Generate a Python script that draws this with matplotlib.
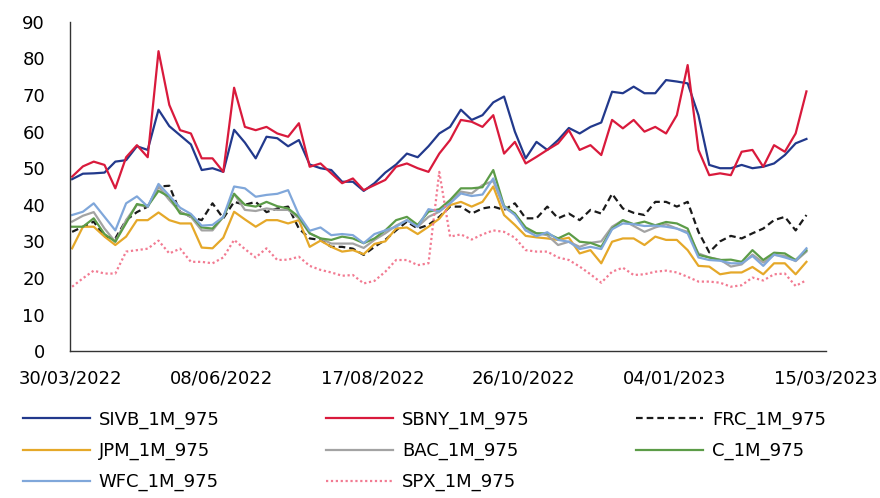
import pandas as pd
import matplotlib
matplotlib.use("Agg")
import matplotlib.pyplot as plt
import matplotlib.dates as mdates

# 1-month 97.5% implied vol style series, sampled every 5 days
dates = pd.date_range("2022-03-31", periods=69, freq="5D")

sivb = [47, 48.5, 48.6, 48.8, 51.8, 52.2, 56, 55, 66, 61.5,
        59, 56.5, 49.5, 50, 49, 60.5, 57, 52.7, 58.6, 58.2,
        56, 57.7, 51, 50, 49.5, 46.3, 46.3, 43.8, 45.9, 48.8,
        51, 54, 53, 56, 59.5, 61.3, 66, 63.2, 64.5, 68,
        69.6, 60, 52.7, 57.2, 55, 57.7, 61, 59.5, 61.3, 62.5,
        70.9, 70.5, 72.3, 70.5, 70.5, 74.1, 73.7, 73.2, 64.5, 50.9,
        50, 50, 50.9, 50, 50.4, 51.3, 53.6, 56.8, 58]
sbny = [47.7, 50.5, 51.8, 50.9, 44.5, 53, 56.3, 53, 82, 67.3,
        60.4, 59.5, 52.7, 52.7, 49, 72, 61.3, 60.4, 61.3, 59.5,
        58.6, 62.3, 50.4, 51.3, 48.6, 45.9, 47.2, 44, 45.4, 46.8,
        50.4, 51.3, 50, 49, 54, 57.7, 63.2, 62.7, 61.3, 64.5,
        54, 57.2, 51.3, 53.1, 55, 56.8, 60.4, 55, 56.3, 53.6,
        63.2, 60.9, 63.2, 60, 61.3, 59.5, 64.5, 78.2, 55, 48.1,
        48.6, 48.1, 54.5, 55, 50.4, 56.3, 54.5, 59.5, 71]
frc = [32.6, 34, 35.4, 31.3, 30.8, 35.8, 38, 39.5, 45, 45.2,
       38, 36.7, 35.8, 40.4, 36.3, 40.8, 40, 40.8, 38, 39,
       39.5, 33.5, 30.8, 30.4, 28.5, 28.5, 28, 26.3, 28.5, 30.4,
       33, 35.4, 33.5, 34.5, 36.7, 39.5, 39.5, 37.6, 39, 39.5,
       38.6, 40.4, 36.3, 36.3, 39.5, 36.3, 37.6, 35.8, 38.6, 37.6,
       43, 39, 37.8, 37.2, 40.8, 40.8, 39.5, 40.8, 32.6, 27,
       30, 31.5, 30.8, 32.2, 33.5, 35.8, 36.7, 33, 37.2]
jpm = [28.1, 34, 34, 31.3, 29, 31.3, 35.8, 35.8, 37.9, 35.8,
       34.9, 34.9, 28.3, 28.1, 31, 38.1, 36, 34, 35.8, 35.8,
       34.9, 35.8, 28.5, 30.2, 28.5, 27.2, 27.6, 26.5, 29.3, 30,
       33.5, 33.8, 32, 34, 36.2, 39.9, 40.8, 39.5, 40.8, 45,
       37.2, 34.5, 31.5, 31.1, 30.8, 30.4, 31, 26.7, 27.6, 24,
       29.9, 30.8, 30.8, 29, 31.3, 30.4, 30.4, 27.6, 23.3, 23.1,
       21, 21.5, 21.5, 23, 21, 24, 24, 21, 24.4]
bac = [35.4, 37, 38, 33.5, 29.9, 35.8, 40, 39.5, 45, 41.3,
       38.1, 36.7, 33, 33, 36.7, 43, 38.6, 38.3, 39, 38.6,
       38.6, 36.3, 32.2, 30.8, 29.4, 29.4, 29.4, 28.2, 30.4, 32.2,
       34.3, 35.8, 34, 36.7, 38.1, 40.8, 43.6, 43.1, 45.4, 46.5,
       39.2, 37.6, 33, 32.2, 31.7, 29, 29.9, 28.5, 29.6, 30,
       34, 35.8, 34.2, 32.6, 33.8, 34.7, 33.5, 32.6, 26.7, 25.6,
       25, 23.1, 23.7, 26.4, 24.2, 26.3, 26, 24.6, 27.2]
citi = [34, 34, 36.3, 32, 29.9, 35, 40.2, 39.6, 43.8, 42.2,
        37.6, 37.2, 33.8, 33.5, 36.7, 43, 40, 39.5, 40.8, 39.6,
        39, 36.7, 32.2, 30.8, 30.4, 31.3, 30.8, 29.5, 30.8, 33,
        35.8, 36.7, 34.5, 38.1, 38.8, 41.3, 44.5, 44.5, 44.8, 49.5,
        39.7, 37.6, 33.8, 32.2, 32.2, 30.8, 32.2, 29.9, 29.6, 28.5,
        33.5, 35.8, 34.7, 35.4, 34.4, 35.3, 34.9, 33.5, 26.3, 25.6,
        24.9, 25, 24.4, 27.6, 24.9, 26.9, 26.7, 24.9, 27.6]
wfc = [37.2, 38.1, 40.4, 36.7, 33, 40.4, 42.3, 39.5, 45.7, 42.5,
       39.2, 37.5, 34.3, 34.5, 36.7, 45, 44.5, 42.2, 42.7, 43,
       44, 37.2, 32.9, 33.8, 31.7, 32, 31.7, 29.5, 32, 33,
       34, 35.8, 34, 38.8, 38.2, 40.4, 43.1, 42.4, 42.8, 47.2,
       39.5, 37.2, 33, 31.4, 32.5, 30.4, 29.9, 27.9, 28.5, 27.9,
       33.3, 34.9, 34.7, 34.2, 34.3, 34, 33.5, 32.2, 25.6, 24.9,
       24.7, 24, 24, 26, 23.3, 26.4, 25.6, 24.7, 28.1]
spx = [17.6, 19.9, 22, 21.2, 21.2, 27.2, 27.6, 28, 30.2, 26.7,
       28, 24.4, 24.4, 24, 25.6, 30.4, 27.9, 25.6, 28.1, 24.9,
       25, 25.8, 23.3, 22.2, 21.5, 20.6, 20.8, 18.5, 19.2, 21.7,
       24.9, 24.9, 23.5, 24, 49, 31.3, 31.9, 30.5, 31.9, 33,
       32.6, 31, 27.6, 27.2, 27.2, 25.6, 24.9, 23.1, 21, 18.7,
       21.7, 22.8, 20.8, 21, 21.7, 22, 21.5, 20.3, 19, 19,
       18.7, 17.6, 18, 20.1, 19.3, 21, 21.2, 17.8, 19.4]

tick_dates = ["2022-03-30", "2022-06-08", "2022-08-17",
              "2022-10-26", "2023-01-04", "2023-03-15"]

plt.rcParams["font.family"] = "DejaVu Sans"
fig = plt.figure(figsize=(8.8, 4.98), dpi=100)
ax = fig.add_axes([0.0795, 0.295, 0.859, 0.661])

lw = 1.6
ax.plot(dates, sivb, color="#22398c", lw=lw, label="SIVB_1M_975")
ax.plot(dates, sbny, color="#d91a3c", lw=lw, label="SBNY_1M_975")
ax.plot(dates, frc, color="#1a1a1a", lw=lw, dashes=(3, 1.8), label="FRC_1M_975")
ax.plot(dates, jpm, color="#e5a829", lw=lw, label="JPM_1M_975")
ax.plot(dates, bac, color="#a3a3a3", lw=lw, label="BAC_1M_975")
ax.plot(dates, citi, color="#5c9c48", lw=lw, label="C_1M_975")
ax.plot(dates, wfc, color="#80a7da", lw=lw, label="WFC_1M_975")
ax.plot(dates, spx, color="#f27b92", lw=lw, linestyle=(0, (1, 1.2)), label="SPX_1M_975")

ax.set_ylim(0, 90)
ax.set_yticks(range(0, 91, 10))
ax.set_xlim(pd.Timestamp("2022-03-30"), pd.Timestamp("2023-03-15"))
ax.set_xticks(pd.to_datetime(tick_dates))
ax.xaxis.set_major_formatter(mdates.DateFormatter("%d/%m/%Y"))
ax.tick_params(axis="y", length=0, pad=18, labelsize=13)
ax.tick_params(axis="x", length=0, pad=13, labelsize=13)
for s in ["top", "right"]:
    ax.spines[s].set_visible(False)
for s in ["left", "bottom"]:
    ax.spines[s].set_color("#333333")
    ax.spines[s].set_linewidth(1.0)

# legend in row order: reorder for column-major filling
h, l = ax.get_legend_handles_labels()
order = [0, 3, 6, 1, 4, 7, 2, 5]
fig.legend([h[i] for i in order], [l[i] for i in order], ncol=3,
           loc="upper left", bbox_to_anchor=(0.018, 0.19), frameon=False,
           fontsize=13, handlelength=3.7, handletextpad=0.5,
           columnspacing=5.9, labelspacing=0.72, borderaxespad=0)

fig.savefig("out.png", dpi=100)
